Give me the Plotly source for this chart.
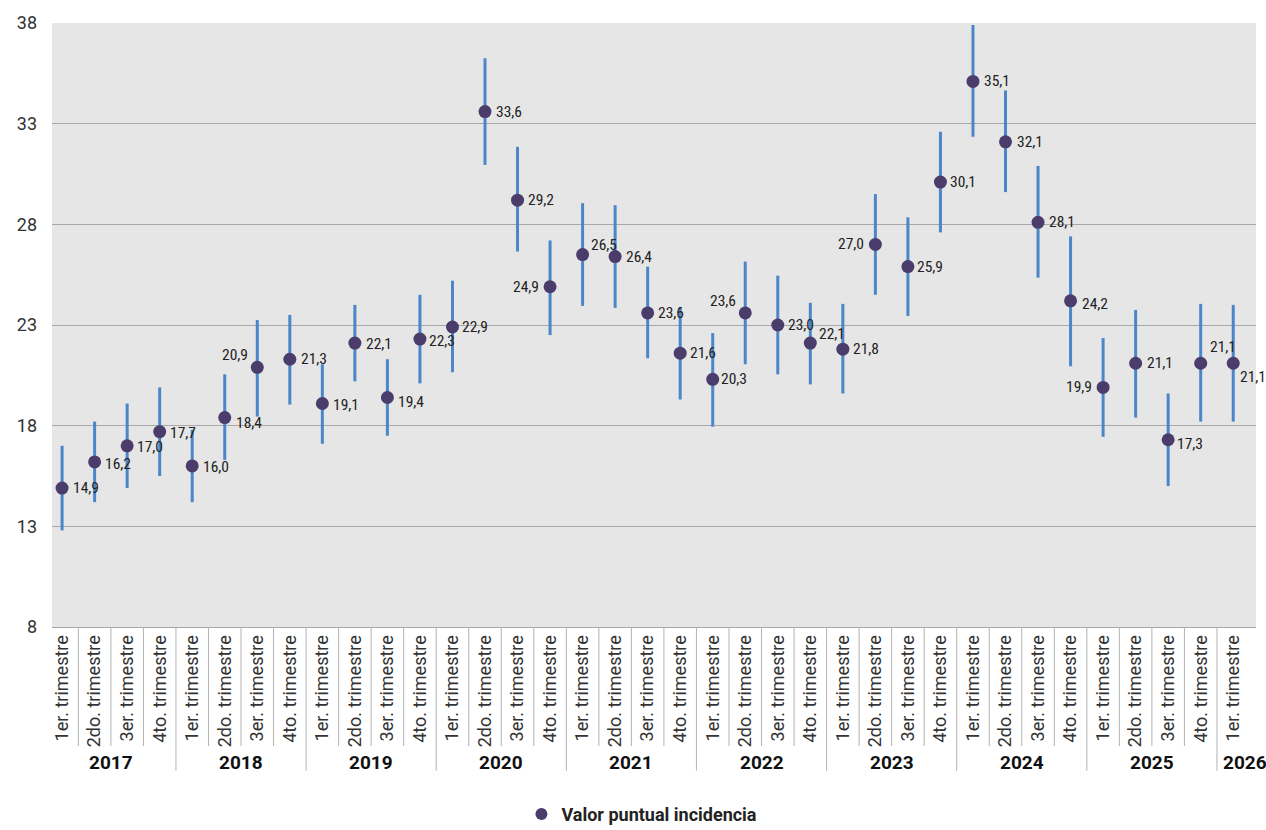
import plotly.graph_objects as go

years = ["2017", "2018", "2019", "2020", "2021", "2022", "2023", "2024", "2025", "2026"]
quarters_per_year = [4, 4, 4, 4, 4, 4, 4, 4, 4, 1]
quarter_names = ["1er. trimestre", "2do. trimestre", "3er. trimestre", "4to. trimestre"]

valor = [14.9, 16.2, 17.0, 17.7,
         16.0, 18.4, 20.9, 21.3,
         19.1, 22.1, 19.4, 22.3,
         22.9, 33.6, 29.2, 24.9,
         26.5, 26.4, 23.6, 21.6,
         20.3, 23.6, 23.0, 22.1,
         21.8, 27.0, 25.9, 30.1,
         35.1, 32.1, 28.1, 24.2,
         19.9, 21.1, 17.3, 21.1,
         21.1]

ic_sup = [17.0, 18.2, 19.1, 19.9,
          17.8, 20.55, 23.25, 23.5,
          21.05, 24.0, 21.3, 24.5,
          25.2, 36.25, 31.85, 27.2,
          29.05, 28.95, 25.9, 23.9,
          22.6, 26.15, 25.45, 24.1,
          24.05, 29.5, 28.35, 32.6,
          37.9, 34.65, 30.9, 27.4,
          22.35, 23.75, 19.6, 24.05,
          24.0]

ic_inf = [12.8, 14.2, 14.9, 15.5,
          14.2, 16.3, 18.45, 19.05,
          17.1, 20.2, 17.5, 20.1,
          20.65, 30.95, 26.65, 22.5,
          23.95, 23.85, 21.35, 19.3,
          17.95, 21.05, 20.55, 20.05,
          19.6, 24.5, 23.45, 27.6,
          32.35, 29.6, 25.35, 20.95,
          17.45, 18.4, 15.0, 18.2,
          18.2]

# label placement (style): side, horizontal and vertical pixel offsets for each point label
label_side = ["r", "r", "r", "r", "r", "r", "l", "r", "r", "r", "r", "r", "r", "r", "r", "l",
              "r", "r", "r", "r", "r", "l", "r", "r", "r", "l", "r", "r", "r", "r", "r", "r",
              "l", "r", "r", "r", "r"]
label_dx = [9, 8, 8, 8, 9, 9, 7, 9, 9, 9, 9, 7, 8, 9, 8, 9,
            6, 9, 8, 8, 6, 7, 8, 7, 8, 9, 7, 8, 9, 9, 9, 9,
            9, 9, 7, 7, 5]
label_dy = [0, -2, -1, -1, -1, -5, 12, 0, -1, -1, -5, -2, 0, 0, 0, 0,
            10, 0, 0, 0, 0, 12, 0, 9, 0, 0, 0, 0, 0, 0, 0, -3,
            0, 0, -4, 16, -14]

# build categories
quarter_labels = []
for y, n in zip(years, quarters_per_year):
    for q in range(n):
        quarter_labels.append(quarter_names[q])
xs = list(range(len(valor)))

err_plus = [s - v for s, v in zip(ic_sup, valor)]
err_minus = [v - i for v, i in zip(valor, ic_inf)]

DOT = "#4b3d6b"
BAR = "#4a86c8"
COND = ("Roboto Condensed, Liberation Sans Narrow, Noto Sans Condensed, DejaVu Sans Condensed, "
        "Open Sans Condensed, Ubuntu Condensed, Arial Narrow, Roboto, sans-serif")

fig = go.Figure()
fig.add_trace(go.Scatter(
    x=xs, y=valor, mode="markers",
    name="<b>Valor puntual incidencia</b>",
    marker=dict(color=DOT, size=13, line=dict(width=0)),
    error_y=dict(type="data", symmetric=False, array=err_plus, arrayminus=err_minus,
                 color=BAR, thickness=3, width=0),
    hoverinfo="x+y",
))

label_font = dict(family=COND, size=15.5, color="#222222")
annotations = []
for i, v in enumerate(valor):
    txt = f"{v:.1f}".replace(".", ",")
    right = label_side[i] == "r"
    annotations.append(dict(
        x=xs[i], y=v, xref="x", yref="y", text=txt, showarrow=False,
        xanchor="left" if right else "right", yanchor="middle",
        xshift=label_dx[i] if right else -label_dx[i], yshift=label_dy[i], font=label_font))

# year labels and dividers
year_font = dict(family="Roboto, Arial, sans-serif", size=19, color="#111111")
shapes = []
start = 0
for y, n in zip(years, quarters_per_year):
    end = start + n
    center = (start + end - 1) / 2
    if n == 1:
        annotations.append(dict(x=start - 0.5, y=-0.225, xref="x", yref="paper", text=f"<b>{y}</b>",
                                showarrow=False, xanchor="left", yanchor="middle", xshift=4,
                                font=year_font))
    else:
        annotations.append(dict(x=center, y=-0.225, xref="x", yref="paper", text=f"<b>{y}</b>",
                                showarrow=False, xanchor="center", yanchor="middle",
                                font=year_font))
    start = end

boundaries = set()
acc = 0
for n in quarters_per_year[:-1]:
    acc += n
    boundaries.add(acc)
for i in range(1, len(valor)):
    long = i in boundaries
    shapes.append(dict(type="line", xref="x", yref="paper", x0=i - 0.5, x1=i - 0.5,
                       y0=0, y1=-0.238 if long else -0.197,
                       line=dict(color="#b3b3b3", width=1)))

fig.update_layout(
    width=1266, height=830,
    margin=dict(l=52, r=10, t=23, b=203, autoexpand=False),
    paper_bgcolor="white",
    plot_bgcolor="#e6e6e6",
    showlegend=True,
    legend=dict(orientation="h", x=0.49, xanchor="center", yref="container", y=0.019, yanchor="middle",
                itemsizing="constant",
                font=dict(family="Roboto, Arial, sans-serif", size=18, color="#222222")),
    annotations=annotations,
    shapes=shapes,
    font=dict(family="Roboto, Arial, sans-serif"),
)
fig.update_xaxes(
    range=[-0.31, 36.7], automargin=False,
    tickmode="array", tickvals=xs, ticktext=quarter_labels,
    tickangle=-90, showgrid=False, zeroline=False,
    showline=True, linecolor="#a6a6a6", linewidth=1,
    ticks="", tickfont=dict(family="Roboto, Arial, sans-serif", size=18, color="#333333"),
)
fig.update_yaxes(
    range=[8, 38], tick0=8, dtick=5, automargin=False,
    showgrid=True, gridcolor="#a8a8a8", gridwidth=1, zeroline=False,
    ticks="", ticklabelstandoff=14,
    tickfont=dict(family="Roboto, Arial, sans-serif", size=18, color="#333333"),
)

fig.write_html("out.html", config={"displayModeBar": False},
               post_script="document.body.style.margin='0';document.body.style.overflow='hidden';")
